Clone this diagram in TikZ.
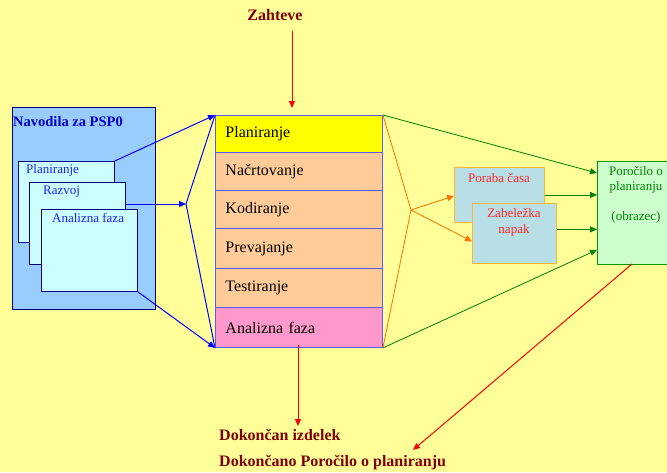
\documentclass[tikz,border=0pt]{standalone}
\usepackage{fontspec}
\setmainfont{Liberation Serif}
\usetikzlibrary{arrows.meta, calc}
\definecolor{bgyellow}{RGB}{255,255,153}
\definecolor{guidefill}{RGB}{153,204,255}
\definecolor{cardfill}{RGB}{204,255,255}
\definecolor{navyline}{RGB}{0,0,128}
\definecolor{titleblue}{RGB}{0,0,204}
\definecolor{cardblue}{RGB}{30,30,255}
\definecolor{rowline}{RGB}{90,90,255}
\definecolor{planfill}{RGB}{255,255,0}
\definecolor{peach}{RGB}{255,204,153}
\definecolor{pinkfill}{RGB}{255,153,204}
\definecolor{notefill}{RGB}{184,222,230}
\definecolor{noteline}{RGB}{255,180,60}
\definecolor{orangeline}{RGB}{255,110,0}
\definecolor{reportfill}{RGB}{204,255,204}
\definecolor{reportline}{RGB}{0,153,0}
\definecolor{greenline}{RGB}{0,128,0}
\definecolor{darkred}{RGB}{128,0,0}
\definecolor{notered}{RGB}{255,40,40}

\begin{document}
\begin{tikzpicture}[x=1pt, y=-1pt, >={Triangle[length=7pt, width=6pt]},
  every node/.style={inner sep=0pt, font=\fontsize{16}{18}\selectfont},
  phase/.style={draw=rowline, line width=0.9pt, anchor=north west, text width=147pt, inner xsep=10pt, align=left},
  card/.style={draw=navyline, line width=0.8pt, fill=cardfill, anchor=north west, minimum width=96pt},
  cardtxt/.style={anchor=west, text=cardblue, font=\fontsize{13}{15}\selectfont},
  note/.style={draw=noteline, line width=0.8pt, fill=notefill, anchor=north west},
  notetxt/.style={text=notered, align=center, font=\fontsize{13}{16}\selectfont},
  outtxt/.style={anchor=west, text=darkred, font=\fontsize{16}{18}\selectfont\bfseries},
  bluearrow/.style={draw=blue, line width=1pt},
  redarrow/.style={draw=red, line width=1pt},
  orangearrow/.style={draw=orangeline, line width=0.8pt},
  greenarrow/.style={draw=greenline, line width=0.8pt}]
  \fill[bgyellow] (0,0) rectangle (667,472);
  \useasboundingbox (0,0) rectangle (667,472);

  % guide with its three cards
  \node[draw=navyline, line width=0.8pt, fill=guidefill, anchor=north west, minimum width=143pt, minimum height=202pt] (guide) at (12,107) {};
  \node[anchor=west, text=titleblue, font=\fontsize{14.5}{16}\selectfont\bfseries] (guidetitle) at (13,122) {Navodila za PSP0};
  \node[card, minimum height=81pt] (card1) at (18,161) {};
  \node[cardtxt] (card1txt) at (26,170) {Planiranje};
  \node[card, minimum height=82pt] (card2) at (29,182) {};
  \node[cardtxt] (card2txt) at (43,192) {Razvoj};
  \node[card, minimum height=82pt] (card3) at (41,209) {};
  \node[cardtxt] (card3txt) at (52,218) {Analizna faza};

  % process steps
  \node[phase, fill=planfill, minimum height=37pt] (plan) at (215,115) {Planiranje};
  \node[phase, fill=peach, minimum height=38pt] (design) at (215,152) {Načrtovanje};
  \node[phase, fill=peach, minimum height=38pt] (code) at (215,190) {Kodiranje};
  \node[phase, fill=peach, minimum height=40pt] (compile) at (215,228) {Prevajanje};
  \node[phase, fill=peach, minimum height=39pt] (test) at (215,268) {Testiranje};
  \node[phase, fill=pinkfill, minimum height=40pt] (anal) at (215,307) {Analizna faza};

  % logs and report
  \node[note, minimum width=90pt, minimum height=55pt] (time) at (454,167) {};
  \node[notetxt] (timetxt) at (499,178) {Poraba časa};
  \node[note, minimum width=84pt, minimum height=60pt] (defect) at (472,203) {};
  \node[notetxt] (defecttxt) at (514,222) {Zabeležka\\napak};
  \node[draw=reportline, line width=0.8pt, fill=reportfill, anchor=north west, minimum width=72pt, minimum height=103pt] (report) at (597,161) {};
  \node[text=greenline, font=\fontsize{13}{15}\selectfont, align=center, anchor=north] (reporttxt) at (636,166) {Poročilo o\\planiranju\\[15pt](obrazec)};

  % texts in and out
  \node[text=darkred, font=\fontsize{16}{18}\selectfont\bfseries] (req) at (275,15) {Zahteve};
  \node[outtxt] (done) at (219,435) {Dokončan izdelek};
  \node[outtxt] (donerep) at (219,463) {Dokončano Poročilo o planiranju};

  % blue connectors
  \coordinate (bjoin) at (186,204);
  \draw[bluearrow, ->] (card1.north east) -- (plan.north west);
  \draw[bluearrow, ->] (card2.east |- bjoin) -- (bjoin);
  \draw[bluearrow] (bjoin) -- (plan.north west);
  \draw[bluearrow] (bjoin) -- (anal.south west);
  \draw[bluearrow, ->] (card3.south east) -- (anal.south west);

  % red connectors
  \coordinate (reqstart) at (292,31);
  \draw[redarrow, ->, shorten >=7pt] (reqstart) -- (reqstart |- plan.north);
  \coordinate (donestart) at (298,345);
  \draw[redarrow, ->, shorten >=3pt] (donestart) -- (donestart |- done.north);
  \coordinate (repstart) at (632,264);
  \coordinate (reptip) at (413,450);
  \draw[redarrow, ->] (repstart) -- (reptip);

  % orange connectors
  \coordinate (ojoin) at (411,210);
  \draw[orangearrow] (plan.north east) -- (ojoin) -- (anal.south east);
  \draw[orangearrow, ->] (ojoin) -- ($(time.west)+(0,1)$);
  \draw[orangearrow, ->] (ojoin) -- ($(defect.west)+(0,8)$);

  % green connectors
  \coordinate (defectout) at ($(defect.east)+(0,-4)$);
  \draw[greenarrow, ->] (plan.north east) -- ($(report.north west)+(0,12)$);
  \draw[greenarrow, ->] (time.east) -- (time.east -| report.west);
  \draw[greenarrow, ->] (defectout) -- (defectout -| report.west);
  \draw[greenarrow, ->] (anal.south east) -- ($(report.south west)+(0,-15)$);
\end{tikzpicture}
\end{document}
